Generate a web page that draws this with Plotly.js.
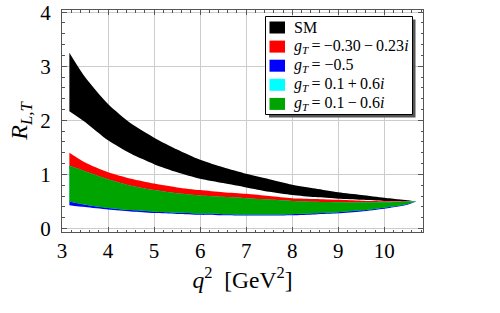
<!DOCTYPE html>
<html>
<head>
<meta charset="utf-8">
<script src="https://cdn.plot.ly/plotly-3.0.1.min.js"></script>
<style>html,body{margin:0;padding:0;background:#fff;}#chart{width:500px;height:313px;}</style>
</head>
<body>
<div id="chart"></div>
<script>
// q^2 sample points [GeV^2]
const q2 = [3.16, 3.5, 4.0, 4.5, 5.0, 5.5, 6.0, 6.5, 7.0, 7.5, 8.0, 8.5, 9.0, 9.5, 10.0, 10.3, 10.5, 10.69];
// SM band
const smUpper = [3.25, 2.80, 2.30, 1.94, 1.68, 1.46, 1.27, 1.13, 1.01, 0.91, 0.81, 0.74, 0.67, 0.62, 0.57, 0.54, 0.52, 0.50];
const smLower = [2.17, 1.97, 1.63, 1.38, 1.19, 1.04, 0.92, 0.84, 0.76, 0.68, 0.62, 0.58, 0.55, 0.53, 0.51, 0.505, 0.50, 0.50];
// g_T = -0.30-0.23i
const redUpper = [1.40, 1.22, 1.04, 0.92, 0.83, 0.76, 0.71, 0.67, 0.64, 0.60, 0.56, 0.545, 0.53, 0.515, 0.505, 0.50, 0.50, 0.50];
const redLower = [1.10, 1.00, 0.86, 0.74, 0.66, 0.60, 0.57, 0.55, 0.53, 0.50, 0.48, 0.47, 0.46, 0.46, 0.47, 0.48, 0.49, 0.50];
// g_T = -0.5
const blueUpper = [0.52, 0.47, 0.41, 0.37, 0.34, 0.32, 0.30, 0.29, 0.285, 0.285, 0.29, 0.305, 0.325, 0.36, 0.405, 0.44, 0.47, 0.50];
const blueLower = [0.43, 0.395, 0.35, 0.315, 0.285, 0.27, 0.255, 0.245, 0.24, 0.24, 0.245, 0.26, 0.28, 0.315, 0.365, 0.405, 0.44, 0.50];
// g_T = 0.1+0.6i
const cyanUpper = [1.16, 1.06, 0.91, 0.79, 0.71, 0.65, 0.61, 0.585, 0.56, 0.535, 0.51, 0.495, 0.485, 0.48, 0.485, 0.49, 0.495, 0.50];
const cyanLower = [0.50, 0.44, 0.38, 0.34, 0.31, 0.29, 0.275, 0.265, 0.26, 0.26, 0.265, 0.28, 0.30, 0.335, 0.385, 0.42, 0.455, 0.50];
// g_T = 0.1-0.6i
const greenUpper = [1.16, 1.06, 0.91, 0.79, 0.71, 0.65, 0.61, 0.585, 0.56, 0.535, 0.51, 0.495, 0.485, 0.48, 0.485, 0.49, 0.495, 0.50];
const greenLower = [0.50, 0.44, 0.38, 0.34, 0.31, 0.29, 0.275, 0.265, 0.26, 0.26, 0.265, 0.28, 0.30, 0.335, 0.385, 0.42, 0.455, 0.50];

const xTicks = [3, 4, 5, 6, 7, 8, 9, 10];
const yTicks = [0, 1, 2, 3, 4];

const seriesNames = ["SM",
  "<i>g</i><sub><i>T</i></sub>\u2009=\u2009−0.30\u2009−\u20090.23<i>i</i>",
  "<i>g</i><sub><i>T</i></sub>\u2009= −0.5",
  "<i>g</i><sub><i>T</i></sub>\u2009= 0.1\u2009+\u20090.6<i>i</i>",
  "<i>g</i><sub><i>T</i></sub>\u2009= 0.1\u2009−\u20090.6<i>i</i>"];
const seriesColors = ["#000000", "#ff0000", "#0000ff", "#00ffff", "#00a400"];
const bands = [[smUpper, smLower], [redUpper, redLower], [blueUpper, blueLower], [cyanUpper, cyanLower], [greenUpper, greenLower]];

const FONT = '"Liberation Serif", "Times New Roman", "DejaVu Serif", serif';

const traces = bands.map((b, i) => ({
  type: 'scatter', mode: 'lines',
  x: q2.concat(q2.slice().reverse()),
  y: b[0].concat(b[1].slice().reverse()),
  fill: 'toself', fillcolor: seriesColors[i],
  line: {width: 0, color: seriesColors[i], shape: 'spline', smoothing: 0.7},
  name: seriesNames[i], showlegend: false, hoverinfo: 'skip'
}));

// plot area in pixels: left 62, right 423, top 10, bottom 232
const L = 62, R = 423, T = 10, B = 232;
const px = v => (v - L) / (R - L);
const py = v => (B - v) / (B - T);

const shapes = [];
const annotations = [];
// legend box (shadow + box)
shapes.push({type:'rect', xref:'paper', yref:'paper', x0:px(269), x1:px(415.5), y0:py(117.5), y1:py(19.5), fillcolor:'#555', line:{width:0}, layer:'above'});
shapes.push({type:'rect', xref:'paper', yref:'paper', x0:px(265.5), x1:px(412.5), y0:py(114.5), y1:py(16.5), fillcolor:'#fff', line:{width:1, color:'#000'}, layer:'above'});
const rowY = [27.5, 46.6, 65.7, 84.8, 103.9];
seriesNames.forEach((n, i) => {
  shapes.push({type:'rect', xref:'paper', yref:'paper', x0:px(269.5), x1:px(285), y0:py(rowY[i]+6), y1:py(rowY[i]-6), fillcolor:seriesColors[i], line:{width:0}, layer:'above'});
  annotations.push({xref:'paper', yref:'paper', x:px(292), y:py(rowY[i]), xanchor:'left', yanchor:'middle', text:n, showarrow:false, font:{family:FONT, size:16, color:'#000'}});
});

const axisCommon = {
  showline: true, linecolor: '#555', linewidth: 1, mirror: 'ticks',
  ticks: 'inside', ticklen: 5, tickcolor: '#555', tickwidth: 1,
  showgrid: true, gridcolor: '#cccccc', gridwidth: 1, zeroline: false,
  ticklabeloverflow: 'allow',
  tickfont: {family: FONT, size: 21, color: '#000'},
  minor: {ticks: 'inside', ticklen: 2.5, tickcolor: '#555', dtick: 0.2, showgrid: false}
};

const layout = {
  width: 500, height: 313,
  font: {family: FONT},
  margin: {l: L, r: 500 - R, t: T, b: 313 - B},
  paper_bgcolor: '#fff', plot_bgcolor: '#fff',
  showlegend: false,
  xaxis: Object.assign({}, axisCommon, {
    range: [3, 10.84], tickmode: 'array', tickvals: xTicks, ticklabelstandoff: 0,
    title: {text: '<i>q</i><sup>2</sup>\u00a0\u00a0[GeV<sup>2</sup>]', font: {family: FONT, size: 23.5, color: '#000'}, standoff: 2}
  }),
  yaxis: Object.assign({}, axisCommon, {
    range: [-0.065, 4.04], tickmode: 'array', tickvals: yTicks, ticklabelstandoff: 6,
    title: {text: '<i>R</i><sub><i>L,T</i></sub>', font: {family: FONT, size: 24, color: '#000'}, standoff: 5}
  }),
  shapes: shapes,
  annotations: annotations
};

Plotly.newPlot('chart', traces, layout, {staticPlot: true, displayModeBar: false});
</script>
</body>
</html>
